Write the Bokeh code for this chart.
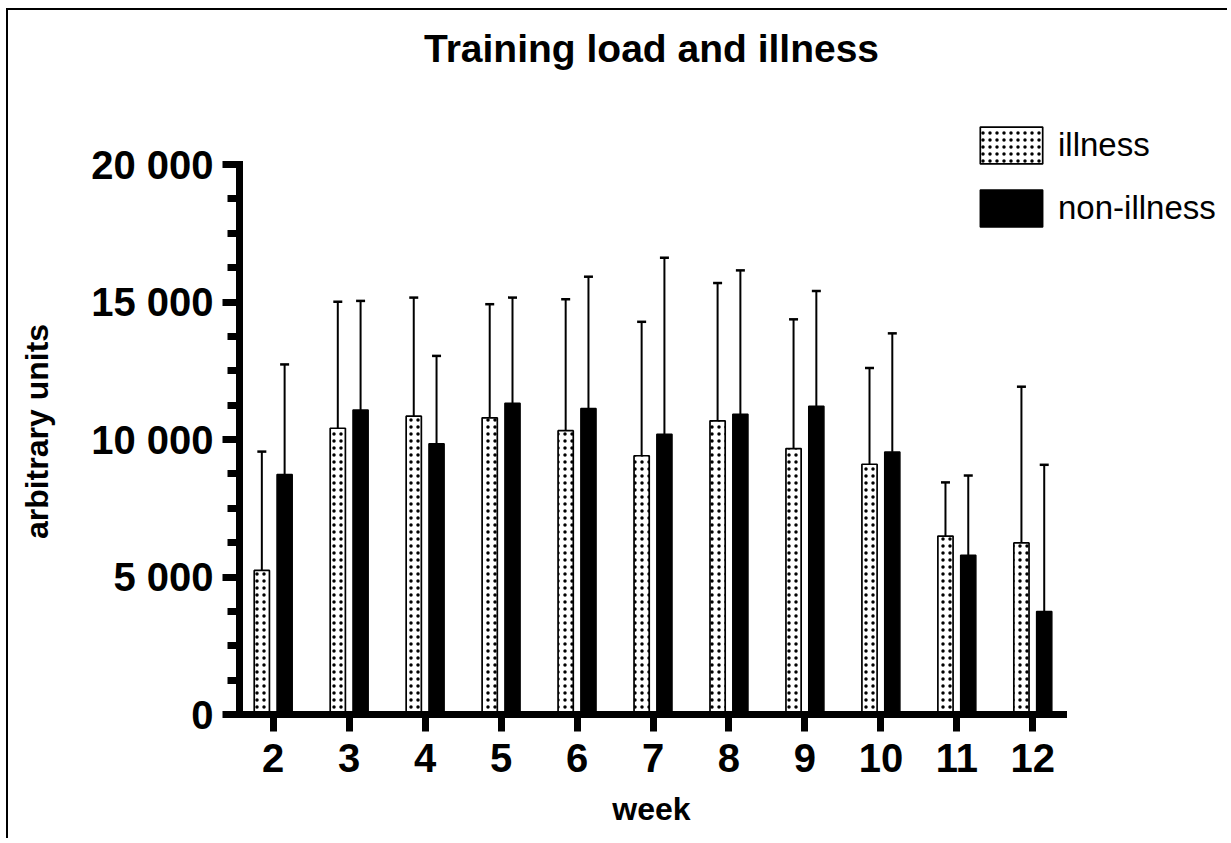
import math
from bokeh.plotting import figure
from bokeh.models import (ColumnDataSource, Whisker, TeeHead, FixedTicker, Label,
                          Legend, LegendItem, Range1d, CustomJSTickFormatter)
from bokeh.transform import dodge
from bokeh.embed import file_html
from bokeh.resources import INLINE

# ---- data ----
weeks = [2, 3, 4, 5, 6, 7, 8, 9, 10, 11, 12]
illness_mean = [5240, 10410, 10850, 10790, 10320, 9410, 10680, 9670, 9100, 6490, 6240]
illness_upper = [9560, 15010, 15160, 14920, 15100, 14280, 15690, 14370, 12600, 8440, 11920]
nonillness_mean = [8730, 11070, 9850, 11320, 11130, 10190, 10920, 11210, 9550, 5790, 3750]
nonillness_upper = [12730, 15040, 13040, 15160, 15920, 16610, 16150, 15400, 13860, 8690, 9080]
y_major = [0, 5000, 10000, 15000, 20000]
y_minor = [1250, 2500, 3750, 6250, 7500, 8750, 11250, 12500, 13750,
           16250, 17500, 18750]
x_bounds = (1.556, 12.40)
y_bounds = (0, 20000)

src = ColumnDataSource(dict(week=weeks, im=illness_mean, iu=illness_upper,
                            nm=nonillness_mean, nu=nonillness_upper))

FONT = "Liberation Sans"
W, H = 1221, 830
AX_LEFT, AX_BOTTOM = 231, 704              # canvas pixel of the axes corner
PX_X = 75.96                                # pixels per week
PX_Y = 550.0 / 20000                        # pixels per unit
x_start = x_bounds[0] - AX_LEFT / PX_X
x_end = x_start + W / PX_X
y_start = -(H - AX_BOTTOM) / PX_Y
y_end = AX_BOTTOM / PX_Y

p = figure(width=W, height=H, output_backend="svg", toolbar_location=None,
           x_range=Range1d(x_start, x_end), y_range=Range1d(y_start, y_end),
           min_border=0)
p.styles = {"border-left": "2px solid black", "border-top": "2px solid black",
            "margin-left": "6px", "margin-top": "8px"}
p.outline_line_color = None
p.grid.visible = False
p.background_fill_color = "white"
p.border_fill_color = "white"

OFF = 0.15
BW = 0.2
r1 = p.vbar(x=dodge("week", -OFF), top="im", width=BW, bottom=0, source=src,
            fill_color="white", line_color="black", line_width=1.7,
            hatch_pattern="dot", hatch_color="black", hatch_scale=7, hatch_weight=2)
r2 = p.vbar(x=dodge("week", OFF), top="nm", width=BW, bottom=0, source=src,
            fill_color="black", line_color="black", line_width=1.5)

for base, lo, up in ((dodge("week", -OFF), "im", "iu"), (dodge("week", OFF), "nm", "nu")):
    wk = Whisker(base=base, lower=lo, upper=up, source=src, dimension="height",
                 line_color="black", line_width=2,
                 upper_head=TeeHead(size=9, line_width=2.5, line_color="black"),
                 lower_head=None)
    p.add_layout(wk)

# axes, fixed at the data origin inside the frame
xa = p.xaxis[0]
xa.fixed_location = 0
xa.bounds = x_bounds
xa.ticker = FixedTicker(ticks=weeks)
xa.axis_line_width = 7
xa.axis_line_cap = "square"
xa.major_tick_line_width = 7
xa.major_tick_in = 0
xa.major_tick_out = 17
xa.minor_tick_line_color = None
xa.major_label_standoff = 12
xa.major_label_text_font = FONT
xa.major_label_text_font_style = "bold"
xa.major_label_text_font_size = "40px"
xa.major_label_text_color = "black"

ya = p.yaxis[0]
ya.fixed_location = x_bounds[0]
ya.bounds = y_bounds
ya.ticker = FixedTicker(ticks=y_major, minor_ticks=y_minor)
ya.formatter = CustomJSTickFormatter(code="""
const s = Math.round(tick).toString();
return s.replace(/\\B(?=(\\d{3})+(?!\\d))/g, ' ');
""")
ya.axis_line_width = 7
ya.axis_line_cap = "square"
ya.major_tick_line_width = 7
ya.minor_tick_line_width = 7
ya.major_tick_in = 0
ya.minor_tick_in = 0
ya.major_tick_out = 17
ya.minor_tick_out = 12
ya.major_label_standoff = 9
ya.major_label_text_font = FONT
ya.major_label_text_font_style = "bold"
ya.major_label_text_font_size = "40px"
ya.major_label_text_color = "black"

def text_label(txt, sx, sy, size, angle=0.0):
    lab = Label(x=sx, y=sy, x_units="screen", y_units="screen", text=txt,
                text_align="center", text_baseline="alphabetic", angle=angle,
                text_font=FONT, text_font_style="bold", text_font_size=size,
                text_color="black")
    p.add_layout(lab)

# screen units: from the frame's bottom-left corner (frame = whole canvas)
text_label("Training load and illness", 643, H - 38, "39px")
text_label("week", 643, H - 798, "32px")
text_label("arbitrary units", 28.5, H - 421, "32px", angle=math.pi / 2)

legend = Legend(items=[LegendItem(label="illness", renderers=[r1]),
                       LegendItem(label="non-illness", renderers=[r2])],
                location=(964, H - 221), orientation="vertical",
                glyph_width=78, glyph_height=46, label_height=46,
                spacing=17, label_standoff=8, padding=0, margin=0,
                border_line_alpha=0, background_fill_alpha=0,
                label_text_font=FONT, label_text_font_size="33px",
                label_text_color="black")
p.add_layout(legend)

open("out.html", "w").write(file_html(p, INLINE))
